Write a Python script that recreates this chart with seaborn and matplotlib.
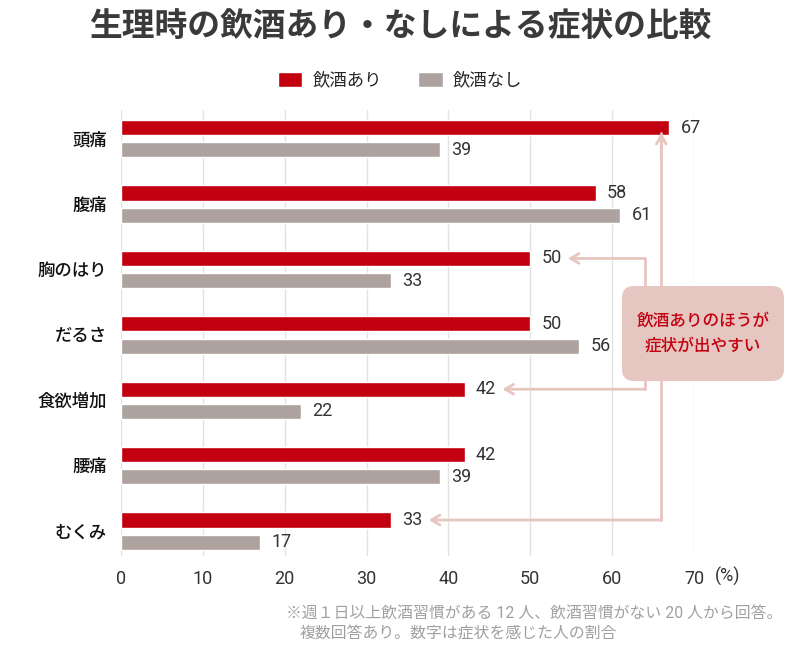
import numpy as np
import pandas as pd
import seaborn as sns
import matplotlib.pyplot as plt
from matplotlib.patches import FancyBboxPatch
from matplotlib.transforms import IdentityTransform

# data
symptoms = ["頭痛", "腹痛", "胸のはり", "だるさ", "食欲増加", "腰痛", "むくみ"]
drink_yes = [67, 58, 50, 50, 42, 42, 33]
drink_no = [39, 61, 33, 56, 22, 39, 17]
groups = ["飲酒あり", "飲酒なし"]
colors = ["#c3000f", "#aea29e"]
xticks = [0, 10, 20, 30, 40, 50, 60, 70]

df = pd.DataFrame({
    "symptom": symptoms * 2,
    "value": drink_yes + drink_no,
    "group": [groups[0]] * len(symptoms) + [groups[1]] * len(symptoms),
})

sns.set_style("white")
plt.rcParams["font.family"] = ["Roboto", "Noto Sans CJK JP", "DejaVu Sans"]

fig = plt.figure(figsize=(8, 6.52), dpi=100)
ax = fig.add_axes([121 / 800, 1 - 556 / 652, 573 / 800, 446 / 652])

sns.barplot(data=df, y="symptom", x="value", hue="group", orient="h",
            palette=colors, width=0.68, gap=0.32, saturation=1,
            ax=ax)

ax.set_xlim(0, 70)
ax.set_ylim(6.38, -0.44)
ax.set_xticks(xticks)
ax.set_xlabel("")
ax.set_ylabel("")
sns.despine(ax=ax, left=True, bottom=True)
ax.grid(axis="x", color="#e2e2e2", linewidth=1)
ax.set_axisbelow(True)
ax.tick_params(axis="x", length=0, pad=10, labelsize=13, labelcolor="#333333")
ax.tick_params(axis="y", length=0, pad=10, labelsize=12.5, labelcolor="#111111")
for lab in ax.get_yticklabels():
    lab.set_fontweight("medium")

for cont in ax.containers:
    ax.bar_label(cont, padding=8, fontsize=13, color="#333333")

ax.annotate("(%)", xy=(70, 0), xycoords=("data", "axes fraction"),
            xytext=(21, -20), textcoords="offset pixels",
            ha="left", va="center", fontsize=13, color="#333333")

# legend
sns.move_legend(ax, "center", bbox_to_anchor=(0.5, 1 - 80 / 652),
                bbox_transform=fig.transFigure, ncol=2, frameon=False,
                title=None, fontsize=12.5, handlelength=1.4, handleheight=0.92,
                handletextpad=0.6, columnspacing=2.1)

# title
fig.text(0.5, 1 - 27 / 652, "生理時の飲酒あり・なしによる症状の比較",
         ha="center", va="center", fontsize=23.6, fontweight="bold",
         color="#3a3a3a")

# callout connectors
line_c = "#e8c6c0"
off = 0.17
tip = 4.6
ax.plot([66, 66], [6 - off, -0.09], color=line_c, lw=2, clip_on=False, zorder=1)
ax.annotate("", xy=(drink_yes[6] + tip, 6 - off), xytext=(66, 6 - off),
            arrowprops=dict(arrowstyle="->,head_length=0.6,head_width=0.35",
                            color=line_c, lw=2, shrinkA=0, shrinkB=0),
            annotation_clip=False, zorder=1)
ax.annotate("", xy=(66, -0.09), xytext=(66, 0.3),
            arrowprops=dict(arrowstyle="->,head_length=0.6,head_width=0.35",
                            color=line_c, lw=2, shrinkA=0, shrinkB=0),
            annotation_clip=False, zorder=1)
ax.plot([64, 64], [2 - off, 4 - off], color=line_c, lw=2, clip_on=False, zorder=1)
for i in [2, 4]:
    ax.annotate("", xy=(drink_yes[i] + tip, i - off), xytext=(64, i - off),
                arrowprops=dict(arrowstyle="->,head_length=0.6,head_width=0.35",
                                color=line_c, lw=2, shrinkA=0, shrinkB=0),
                annotation_clip=False, zorder=1)

# callout box (pixel coordinates)
box = FancyBboxPatch((622, 652 - 381), 162, 95,
                     boxstyle="round,pad=0,rounding_size=12",
                     transform=IdentityTransform(), facecolor="#e6c6c0",
                     edgecolor="none", zorder=5)
fig.patches.append(box)
fig.text(703 / 800, 1 - 333 / 652, "飲酒ありのほうが\n症状が出やすい",
         ha="center", va="center", fontsize=12, color="#c3000f",
         linespacing=1.65, fontweight="medium", zorder=6)

# footnote
fig.text(286 / 800, 1 - 613 / 652,
         "※週１日以上飲酒習慣がある 12 人、飲酒習慣がない 20 人から回答。",
         ha="left", va="center", fontsize=11.4, color="#a0a0a0")
fig.text(300 / 800, 1 - 634 / 652,
         "複数回答あり。数字は症状を感じた人の割合",
         ha="left", va="center", fontsize=11.4, color="#a0a0a0")

fig.savefig("out.png", dpi=100)
